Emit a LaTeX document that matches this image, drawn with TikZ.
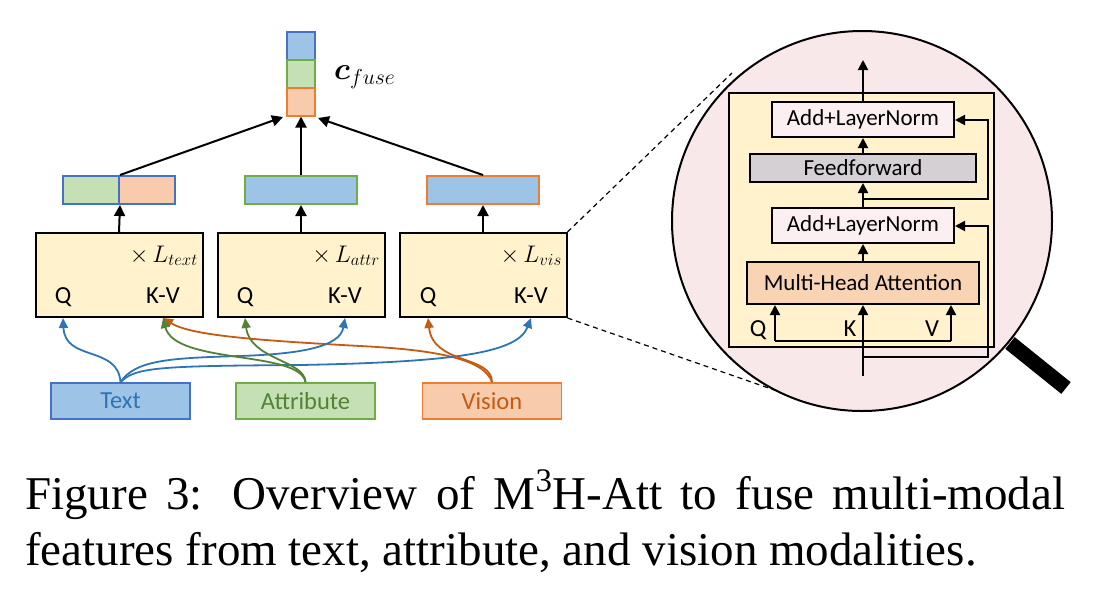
\RequirePackage{fix-cm}
\documentclass[tikz,border=0pt]{standalone}
\usepackage{amsmath}
\usepackage{fontspec}
\setmainfont{Liberation Serif}
\newfontfamily\carl{Carlito}
\usetikzlibrary{arrows.meta}
\definecolor{blueF}{HTML}{9DC3E6}
\definecolor{blueB}{HTML}{4472C4}
\definecolor{blueC}{HTML}{2E75B6}
\definecolor{greenF}{HTML}{C5E0B4}
\definecolor{greenB}{HTML}{70AD47}
\definecolor{greenC}{HTML}{548235}
\definecolor{orangeF}{HTML}{F8CBAD}
\definecolor{orangeB}{HTML}{ED7D31}
\definecolor{orangeC}{HTML}{C55A11}
\definecolor{blockY}{HTML}{FFF2CC}
\definecolor{circF}{HTML}{F9E8E9}
\definecolor{addF}{HTML}{FBEFF1}
\definecolor{ffF}{HTML}{D5D0D3}
\definecolor{mhaF}{HTML}{F8D4B5}
\begin{document}
\begin{tikzpicture}[x=1pt,y=-1pt,
  blk/.style={draw=black, line width=2pt, fill=blockY, minimum width=167pt, minimum height=84pt, inner sep=0pt},
  cell/.style={line width=2pt, minimum width=28pt, minimum height=28pt, inner sep=0pt},
  half/.style={line width=2pt, minimum width=56pt, minimum height=28pt, inner sep=0pt},
  bar/.style={line width=2pt, minimum width=112pt, minimum height=28pt, inner sep=0pt},
  mbox/.style={line width=1.6pt, minimum width=139pt, minimum height=36pt, inner sep=0pt, font=\carl\fontsize{24.5}{28}\selectfont},
  lbl/.style={font=\carl\fontsize{24.5}{28}\selectfont, inner sep=0pt, anchor=base},
  mlbl/.style={font=\fontsize{24}{28}\selectfont, inner sep=0pt, anchor=base east},
  arr/.style={line width=2pt, -{Triangle[length=11pt,width=11pt]}},
  carr/.style={line width=1.8pt, -{Triangle[length=10pt,width=9pt]}},
  iarr/.style={line width=2pt, -{Triangle[length=10pt,width=10pt]}},
  ibox/.style={draw=black, line width=2pt, inner sep=0pt, font=\carl\fontsize{23}{27}\selectfont},
  dsh/.style={line width=1.2pt, dash pattern=on 5pt off 4pt}]
\useasboundingbox (0,0) rectangle (1112,606);

% ---------- fused vector ----------
\node[cell, fill=blueF, draw=blueB] (fb) at (301,45.5) {};
\node[cell, fill=greenF, draw=greenB] (fg) at (301,73.5) {};
\node[cell, fill=orangeF, draw=orangeB] (fo) at (301,101.5) {};
\node[anchor=west, inner sep=0pt, font=\fontsize{31}{35}\selectfont] (cf) at (334,77) {$\boldsymbol{c}_{fuse}$};

% ---------- bars ----------
\node[half, fill=greenF, draw=blueB] (b1l) at (91,190) {};
\node[half, fill=orangeF, draw=blueB] (b1r) at (147,190) {};
\node[bar, fill=blueF, draw=greenB] (b2) at (301,190) {};
\node[bar, fill=blueF, draw=orangeB] (b3) at (483,190) {};

\coordinate (f1) at (283,117);
\coordinate (f3) at (318,118);
\draw[arr] (b1l.north east) -- (f1);
\draw[arr] (b2.north) -- (fo.south);
\draw[arr] (b3.north) -- (f3);

% ---------- blocks ----------
\node[blk] (blk1) at (119,275) {};
\node[blk] (blk2) at (301,275) {};
\node[blk] (blk3) at (483,275) {};

\draw[arr] (blk1.north) -- (b1l.south east);
\draw[arr] (blk2.north) -- (b2.south);
\draw[arr] (blk3.north) -- (b3.south);

\node[mlbl] (l1) at (198,262) {$\times\, L_{text}$};
\node[mlbl] (l2) at (380,262) {$\times\, L_{attr}$};
\node[mlbl] (l3) at (562,262) {$\times\, L_{vis}$};

\node[lbl] (q1) at (63,303) {Q};
\node[lbl] (kv1) at (163,303) {K-V};
\node[lbl] (q2) at (245,303) {Q};
\node[lbl] (kv2) at (345,303) {K-V};
\node[lbl] (q3) at (428,303) {Q};
\node[lbl] (kv3) at (531,303) {K-V};

% ---------- modality boxes ----------
\node[mbox, fill=blueF, draw=blueB, text=blueC] (txt) at (120.5,401) {Text};
\node[mbox, fill=greenF, draw=greenB, text=greenC] (att) at (305.5,401) {Attribute};
\node[mbox, fill=orangeF, draw=orangeB, text=orangeC] (vis) at (492,401) {Vision};

% ---------- colored connectors ----------
\draw[carr, draw=orangeC] (vis.north) .. controls (485,360) and (440,350) .. (360,346) .. controls (250,340) and (190,335) .. (blk1.south -| kv1);
\draw[carr, draw=blueC] (txt.north) .. controls (118,345) and (65,362) .. (blk1.south -| q1);
\draw[carr, draw=blueC] (txt.north) .. controls (135,360) and (170,358) .. (240,356) .. controls (300,354) and (340,347) .. (blk2.south -| kv2);
\draw[carr, draw=blueC] (txt.north) .. controls (135,367) and (160,366) .. (300,365) .. controls (460,362) and (518,352) .. (blk3.south -| kv3);
\draw[carr, draw=greenC] (att.north) .. controls (305,360) and (250,360) .. (blk2.south -| q2);
\draw[carr, draw=greenC] (att.north) .. controls (300,350) and (175,365) .. (blk1.south -| kv1);
\draw[carr, draw=orangeC] (vis.north) .. controls (492,355) and (433,365) .. (blk3.south -| q3);

% ---------- magnifier ----------
\coordinate (dT) at (732,73);
\coordinate (dB) at (780,392);
\draw[dsh] (blk3.north east) -- (dT);
\draw[dsh] (blk3.south east) -- (dB);
\node[circle, draw=black, line width=2pt, fill=circF, minimum size=380pt, inner sep=0pt] (lens) at (862,221) {};
\coordinate (h1) at (1010,343);
\coordinate (h2) at (1066,388);
\draw[line width=15pt] (h1) -- (h2);

\node[draw=black, line width=2pt, fill=blockY, minimum width=265pt, minimum height=254pt, inner sep=0pt] (inner) at (861.5,220) {};
\node[ibox, fill=addF, minimum width=182pt, minimum height=35pt] (add2) at (863,119.5) {Add+LayerNorm};
\node[ibox, fill=ffF, minimum width=226pt, minimum height=28pt] (ff) at (863,168) {Feedforward};
\node[ibox, fill=addF, minimum width=182pt, minimum height=35pt] (add1) at (863,225.5) {Add+LayerNorm};
\node[ibox, fill=mhaF, minimum width=232pt, minimum height=42pt] (mha) at (863,283) {Multi-Head Attention};

\coordinate (out) at (863,60);
\coordinate (in) at (863,376);
\coordinate (r1) at (863,199);
\coordinate (r2) at (863,357);
\coordinate (qa) at (775,341);
\coordinate (va) at (951,341);

\draw[iarr] (add2.north) -- (out);
\draw[iarr] (ff.north) -- (add2.south);
\draw[iarr] (add1.north) -- (ff.south);
\draw[iarr] (mha.north) -- (add1.south);
\draw[iarr] (in) -- (mha.south);
\draw[iarr] (r1) -- (988,199) -- (988,120) -- (add2.east |- 0,120);
\draw[iarr] (r2) -- (988,357) -- (988,226) -- (add1.east |- 0,226);
\draw[line width=2pt] (qa) -- (va);
\draw[iarr] (qa) -- (qa |- mha.south);
\draw[iarr] (va) -- (va |- mha.south);

\node[lbl] (iq) at (758,336) {Q};
\node[lbl] (ik) at (850,336) {K};
\node[lbl] (iv) at (932,336) {V};

% ---------- caption ----------
\node[anchor=base west, inner sep=0pt, font=\fontsize{47}{55}\selectfont] (cap1) at (25,509) {\makebox[1040pt][s]{Figure 3: Overview of M\textsuperscript{3}H-Att to fuse multi-modal}};
\node[anchor=base west, inner sep=0pt, font=\fontsize{47}{55}\selectfont] (cap2) at (25,565) {features from text, attribute, and vision modalities.};
\end{tikzpicture}
\end{document}
